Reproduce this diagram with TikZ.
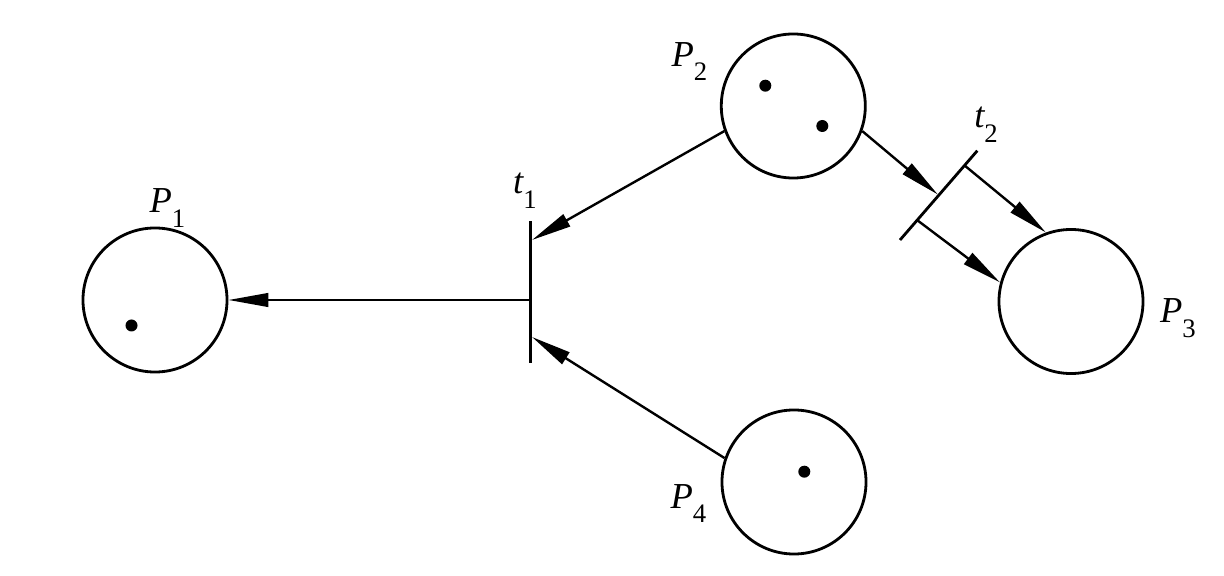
\documentclass[tikz,border=0pt]{standalone}
\usepackage{fontspec}
\setmainfont{Liberation Serif}
\usetikzlibrary{arrows.meta}
\newcommand{\plab}[2]{{\itshape #1}\raisebox{-10.5pt}{\fontsize{19}{19}\selectfont #2}}
\tikzset{
  place/.style={circle, draw, line width=2pt, minimum size=3.6cm, inner sep=0pt},
  tbar/.style={line width=2pt},
  arc/.style={line width=1.7pt, -{Triangle[length=1cm,width=0.34cm]}},
  token/.style={circle, fill, inner sep=0pt, minimum size=0.3cm},
  lab/.style={font=\fontsize{26}{29}\selectfont, inner sep=0pt}
}
\begin{document}
\begin{tikzpicture}[x=0.025cm,y=-0.025cm]
\useasboundingbox (0,0) rectangle (1224,576);
% places
\node[place] (P1) at (155,300) {};
\node[place] (P2) at (793.3,106) {};
\node[place] (P3) at (1071,301.5) {};
\node[place] (P4) at (794,482) {};
% tokens
\node[token] (k1) at (131.5,325.5) {};
\node[token] (k2) at (765.3,85.7) {};
\node[token] (k3) at (822.3,126) {};
\node[token] (k4) at (804.3,471.7) {};
% transition t1
\coordinate (t1n) at (530.5,221.5);
\coordinate (t1s) at (530.5,363.5);
\coordinate (t1a) at (532,240);
\coordinate (t1b) at (532,337);
\coordinate (t1c) at (530.5,300);
\draw[tbar] (t1n) -- (t1s);
% transition t2
\coordinate (t2a) at (900,240);
\coordinate (t2b) at (977.3,150.7);
\coordinate (t2in) at (937.8,194.5);
\coordinate (t2o1) at (964.5,165.4);
\coordinate (t2o2) at (917.2,220.2);
\draw[tbar] (t2a) -- (t2b);
% arcs
\draw[arc] (P2.200) -- (t1a);
\draw[arc] (P4.161) -- (t1b);
\draw[arc] (t1c) -- (P1.east);
\draw[arc] (P2.340) -- (t2in);
\draw[arc] (t2o1) -- (P3.110.4);
\draw[arc] (t2o2) -- (P3.165.2);
% labels
\node[lab] (L1) at (167.5,208) {\plab{P}{1}};
\node[lab] (L2) at (689.5,61.5) {\plab{P}{2}};
\node[lab] (L3) at (1178,318) {\plab{P}{3}};
\node[lab] (L4) at (688.5,503.5) {\plab{P}{4}};
\node[lab] (T1) at (525,191) {\plab{t}{1}};
\node[lab] (T2) at (986,125) {\plab{t}{2}};
\end{tikzpicture}
\end{document}
